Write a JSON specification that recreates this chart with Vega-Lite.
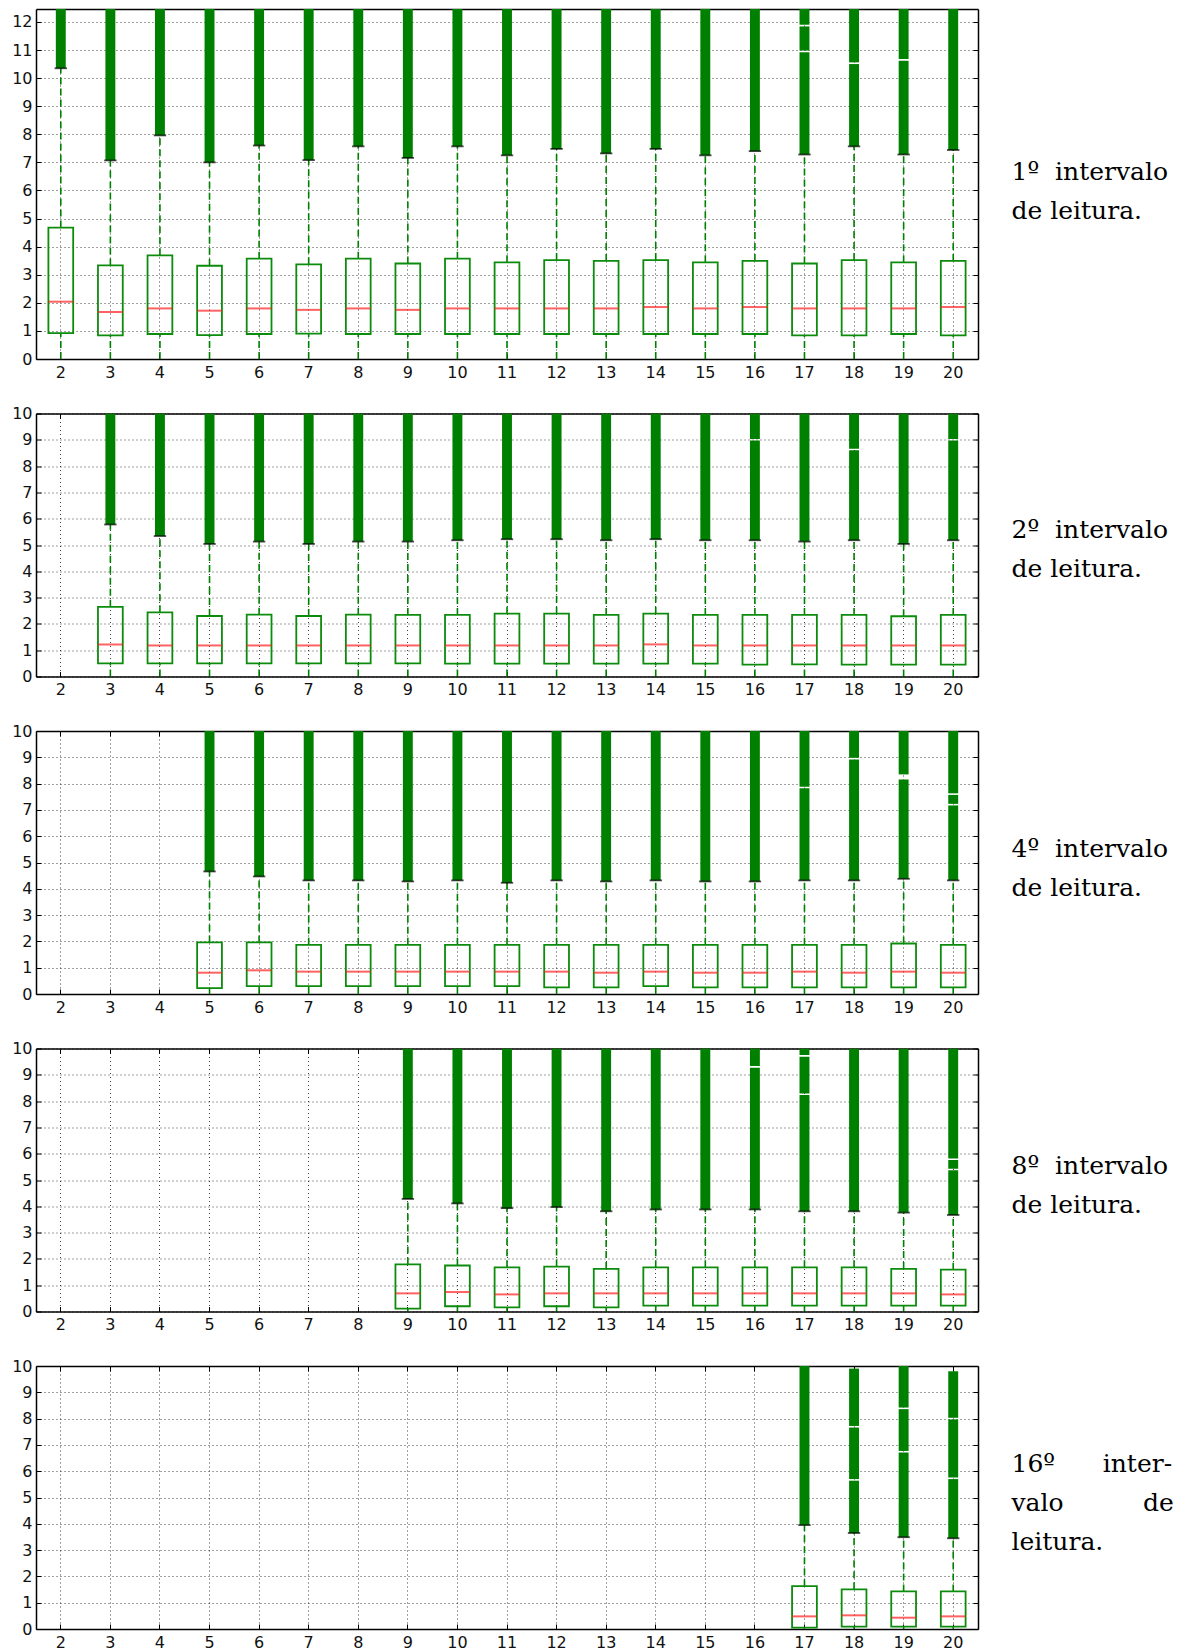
{
  "$schema": "https://vega.github.io/schema/vega-lite/v6.json",
  "padding": {"left": 11, "top": 8, "right": 5, "bottom": 5},
  "background": "white",
  "bounds": "flush",
  "spacing": 54.5,
  "config": {
    "view": {"stroke": null},
    "scale": {"bandPaddingInner": 0, "bandPaddingOuter": 0},
    "axis": {
      "labelFont": "DejaVu Sans",
      "labelFontSize": 16,
      "labelColor": "#111",
      "labelAngle": 0,
      "gridColor": "#000",
      "gridDash": [1, 3],
      "gridWidth": 1,
      "gridOpacity": 0.75,
      "tickColor": "#000",
      "tickWidth": 1,
      "domainColor": "#000",
      "domainWidth": 1.5,
      "titleFont": "DejaVu Serif",
      "titleFontSize": 25,
      "titleFontWeight": "normal",
      "titleLineHeight": 39,
      "titleColor": "#000",
      "zindex": 1
    }
  },
  "datasets": {
    "boxes": [
      {"panel": 1, "n": 2, "lo": 0, "q1": 0.92, "med": 2.04, "q3": 4.68, "hi": 10.35},
      {"panel": 1, "n": 3, "lo": 0, "q1": 0.84, "med": 1.67, "q3": 3.33, "hi": 7.07},
      {"panel": 1, "n": 4, "lo": 0, "q1": 0.89, "med": 1.80, "q3": 3.69, "hi": 7.96},
      {"panel": 1, "n": 5, "lo": 0, "q1": 0.85, "med": 1.72, "q3": 3.32, "hi": 7.00},
      {"panel": 1, "n": 6, "lo": 0, "q1": 0.89, "med": 1.80, "q3": 3.57, "hi": 7.60},
      {"panel": 1, "n": 7, "lo": 0, "q1": 0.90, "med": 1.75, "q3": 3.37, "hi": 7.08},
      {"panel": 1, "n": 8, "lo": 0, "q1": 0.89, "med": 1.80, "q3": 3.57, "hi": 7.57},
      {"panel": 1, "n": 9, "lo": 0, "q1": 0.89, "med": 1.75, "q3": 3.40, "hi": 7.16},
      {"panel": 1, "n": 10, "lo": 0, "q1": 0.89, "med": 1.80, "q3": 3.57, "hi": 7.57},
      {"panel": 1, "n": 11, "lo": 0, "q1": 0.89, "med": 1.80, "q3": 3.44, "hi": 7.25},
      {"panel": 1, "n": 12, "lo": 0, "q1": 0.89, "med": 1.80, "q3": 3.52, "hi": 7.48},
      {"panel": 1, "n": 13, "lo": 0, "q1": 0.89, "med": 1.80, "q3": 3.49, "hi": 7.32},
      {"panel": 1, "n": 14, "lo": 0, "q1": 0.89, "med": 1.85, "q3": 3.52, "hi": 7.48},
      {"panel": 1, "n": 15, "lo": 0, "q1": 0.89, "med": 1.80, "q3": 3.44, "hi": 7.25},
      {"panel": 1, "n": 16, "lo": 0, "q1": 0.89, "med": 1.85, "q3": 3.49, "hi": 7.40},
      {"panel": 1, "n": 17, "lo": 0, "q1": 0.84, "med": 1.80, "q3": 3.40, "hi": 7.28},
      {"panel": 1, "n": 18, "lo": 0, "q1": 0.84, "med": 1.80, "q3": 3.52, "hi": 7.57},
      {"panel": 1, "n": 19, "lo": 0, "q1": 0.89, "med": 1.80, "q3": 3.44, "hi": 7.28},
      {"panel": 1, "n": 20, "lo": 0, "q1": 0.84, "med": 1.85, "q3": 3.49, "hi": 7.44},

      {"panel": 2, "n": 3, "lo": 0, "q1": 0.50, "med": 1.22, "q3": 2.65, "hi": 5.78},
      {"panel": 2, "n": 4, "lo": 0, "q1": 0.50, "med": 1.18, "q3": 2.44, "hi": 5.34},
      {"panel": 2, "n": 5, "lo": 0, "q1": 0.50, "med": 1.18, "q3": 2.30, "hi": 5.04},
      {"panel": 2, "n": 6, "lo": 0, "q1": 0.50, "med": 1.18, "q3": 2.35, "hi": 5.13},
      {"panel": 2, "n": 7, "lo": 0, "q1": 0.50, "med": 1.18, "q3": 2.30, "hi": 5.04},
      {"panel": 2, "n": 8, "lo": 0, "q1": 0.50, "med": 1.18, "q3": 2.35, "hi": 5.13},
      {"panel": 2, "n": 9, "lo": 0, "q1": 0.50, "med": 1.18, "q3": 2.34, "hi": 5.13},
      {"panel": 2, "n": 10, "lo": 0, "q1": 0.49, "med": 1.18, "q3": 2.34, "hi": 5.18},
      {"panel": 2, "n": 11, "lo": 0, "q1": 0.49, "med": 1.18, "q3": 2.39, "hi": 5.22},
      {"panel": 2, "n": 12, "lo": 0, "q1": 0.49, "med": 1.18, "q3": 2.39, "hi": 5.22},
      {"panel": 2, "n": 13, "lo": 0, "q1": 0.49, "med": 1.18, "q3": 2.34, "hi": 5.18},
      {"panel": 2, "n": 14, "lo": 0, "q1": 0.49, "med": 1.22, "q3": 2.39, "hi": 5.22},
      {"panel": 2, "n": 15, "lo": 0, "q1": 0.49, "med": 1.18, "q3": 2.34, "hi": 5.18},
      {"panel": 2, "n": 16, "lo": 0, "q1": 0.45, "med": 1.18, "q3": 2.34, "hi": 5.18},
      {"panel": 2, "n": 17, "lo": 0, "q1": 0.46, "med": 1.18, "q3": 2.34, "hi": 5.13},
      {"panel": 2, "n": 18, "lo": 0, "q1": 0.45, "med": 1.18, "q3": 2.34, "hi": 5.18},
      {"panel": 2, "n": 19, "lo": 0, "q1": 0.45, "med": 1.18, "q3": 2.29, "hi": 5.04},
      {"panel": 2, "n": 20, "lo": 0, "q1": 0.45, "med": 1.18, "q3": 2.34, "hi": 5.18},

      {"panel": 3, "n": 5, "lo": 0, "q1": 0.22, "med": 0.81, "q3": 1.96, "hi": 4.66},
      {"panel": 3, "n": 6, "lo": 0, "q1": 0.30, "med": 0.90, "q3": 1.96, "hi": 4.47},
      {"panel": 3, "n": 7, "lo": 0, "q1": 0.30, "med": 0.85, "q3": 1.87, "hi": 4.32},
      {"panel": 3, "n": 8, "lo": 0, "q1": 0.30, "med": 0.85, "q3": 1.87, "hi": 4.32},
      {"panel": 3, "n": 9, "lo": 0, "q1": 0.30, "med": 0.85, "q3": 1.87, "hi": 4.28},
      {"panel": 3, "n": 10, "lo": 0, "q1": 0.30, "med": 0.85, "q3": 1.87, "hi": 4.32},
      {"panel": 3, "n": 11, "lo": 0, "q1": 0.30, "med": 0.85, "q3": 1.87, "hi": 4.23},
      {"panel": 3, "n": 12, "lo": 0, "q1": 0.25, "med": 0.85, "q3": 1.87, "hi": 4.32},
      {"panel": 3, "n": 13, "lo": 0, "q1": 0.25, "med": 0.81, "q3": 1.87, "hi": 4.28},
      {"panel": 3, "n": 14, "lo": 0, "q1": 0.30, "med": 0.85, "q3": 1.87, "hi": 4.32},
      {"panel": 3, "n": 15, "lo": 0, "q1": 0.25, "med": 0.81, "q3": 1.87, "hi": 4.28},
      {"panel": 3, "n": 16, "lo": 0, "q1": 0.25, "med": 0.81, "q3": 1.87, "hi": 4.28},
      {"panel": 3, "n": 17, "lo": 0, "q1": 0.25, "med": 0.85, "q3": 1.87, "hi": 4.32},
      {"panel": 3, "n": 18, "lo": 0, "q1": 0.25, "med": 0.81, "q3": 1.87, "hi": 4.32},
      {"panel": 3, "n": 19, "lo": 0, "q1": 0.25, "med": 0.85, "q3": 1.92, "hi": 4.38},
      {"panel": 3, "n": 20, "lo": 0, "q1": 0.25, "med": 0.81, "q3": 1.87, "hi": 4.32},

      {"panel": 4, "n": 9, "lo": 0, "q1": 0.11, "med": 0.69, "q3": 1.79, "hi": 4.28},
      {"panel": 4, "n": 10, "lo": 0, "q1": 0.20, "med": 0.74, "q3": 1.75, "hi": 4.11},
      {"panel": 4, "n": 11, "lo": 0, "q1": 0.16, "med": 0.65, "q3": 1.68, "hi": 3.93},
      {"panel": 4, "n": 12, "lo": 0, "q1": 0.20, "med": 0.69, "q3": 1.71, "hi": 3.97},
      {"panel": 4, "n": 13, "lo": 0, "q1": 0.16, "med": 0.69, "q3": 1.62, "hi": 3.81},
      {"panel": 4, "n": 14, "lo": 0, "q1": 0.22, "med": 0.69, "q3": 1.68, "hi": 3.88},
      {"panel": 4, "n": 15, "lo": 0, "q1": 0.22, "med": 0.69, "q3": 1.68, "hi": 3.88},
      {"panel": 4, "n": 16, "lo": 0, "q1": 0.22, "med": 0.69, "q3": 1.68, "hi": 3.88},
      {"panel": 4, "n": 17, "lo": 0, "q1": 0.22, "med": 0.69, "q3": 1.68, "hi": 3.81},
      {"panel": 4, "n": 18, "lo": 0, "q1": 0.22, "med": 0.69, "q3": 1.68, "hi": 3.81},
      {"panel": 4, "n": 19, "lo": 0, "q1": 0.22, "med": 0.69, "q3": 1.62, "hi": 3.76},
      {"panel": 4, "n": 20, "lo": 0, "q1": 0.22, "med": 0.65, "q3": 1.59, "hi": 3.67},

      {"panel": 5, "n": 17, "lo": 0, "q1": 0.05, "med": 0.48, "q3": 1.63, "hi": 3.95},
      {"panel": 5, "n": 18, "lo": 0, "q1": 0.09, "med": 0.52, "q3": 1.51, "hi": 3.65},
      {"panel": 5, "n": 19, "lo": 0, "q1": 0.09, "med": 0.43, "q3": 1.43, "hi": 3.49},
      {"panel": 5, "n": 20, "lo": 0, "q1": 0.09, "med": 0.48, "q3": 1.43, "hi": 3.45}
    ],
    "outliers": [
      {"panel": 1, "n": 2, "y0": 10.35, "y1": 12.46},
      {"panel": 1, "n": 3, "y0": 7.07, "y1": 12.46},
      {"panel": 1, "n": 4, "y0": 7.96, "y1": 12.46},
      {"panel": 1, "n": 5, "y0": 7.00, "y1": 12.46},
      {"panel": 1, "n": 6, "y0": 7.60, "y1": 12.46},
      {"panel": 1, "n": 7, "y0": 7.08, "y1": 12.46},
      {"panel": 1, "n": 8, "y0": 7.57, "y1": 12.46},
      {"panel": 1, "n": 9, "y0": 7.16, "y1": 12.46},
      {"panel": 1, "n": 10, "y0": 7.57, "y1": 12.46},
      {"panel": 1, "n": 11, "y0": 7.25, "y1": 12.46},
      {"panel": 1, "n": 12, "y0": 7.48, "y1": 12.46},
      {"panel": 1, "n": 13, "y0": 7.32, "y1": 12.46},
      {"panel": 1, "n": 14, "y0": 7.48, "y1": 12.46},
      {"panel": 1, "n": 15, "y0": 7.25, "y1": 12.46},
      {"panel": 1, "n": 16, "y0": 7.40, "y1": 12.46},
      {"panel": 1, "n": 17, "y0": 7.28, "y1": 10.92},
      {"panel": 1, "n": 17, "y0": 10.98, "y1": 11.84},
      {"panel": 1, "n": 17, "y0": 11.90, "y1": 12.46},
      {"panel": 1, "n": 18, "y0": 7.57, "y1": 10.50},
      {"panel": 1, "n": 18, "y0": 10.56, "y1": 12.46},
      {"panel": 1, "n": 19, "y0": 7.28, "y1": 10.62},
      {"panel": 1, "n": 19, "y0": 10.68, "y1": 12.46},
      {"panel": 1, "n": 20, "y0": 7.44, "y1": 12.46},

      {"panel": 2, "n": 3, "y0": 5.78, "y1": 10},
      {"panel": 2, "n": 4, "y0": 5.34, "y1": 10},
      {"panel": 2, "n": 5, "y0": 5.04, "y1": 10},
      {"panel": 2, "n": 6, "y0": 5.13, "y1": 10},
      {"panel": 2, "n": 7, "y0": 5.04, "y1": 10},
      {"panel": 2, "n": 8, "y0": 5.13, "y1": 10},
      {"panel": 2, "n": 9, "y0": 5.13, "y1": 10},
      {"panel": 2, "n": 10, "y0": 5.18, "y1": 10},
      {"panel": 2, "n": 11, "y0": 5.22, "y1": 10},
      {"panel": 2, "n": 12, "y0": 5.22, "y1": 10},
      {"panel": 2, "n": 13, "y0": 5.18, "y1": 10},
      {"panel": 2, "n": 14, "y0": 5.22, "y1": 10},
      {"panel": 2, "n": 15, "y0": 5.18, "y1": 10},
      {"panel": 2, "n": 16, "y0": 5.18, "y1": 8.97},
      {"panel": 2, "n": 16, "y0": 9.03, "y1": 10},
      {"panel": 2, "n": 17, "y0": 5.13, "y1": 10},
      {"panel": 2, "n": 18, "y0": 5.18, "y1": 8.60},
      {"panel": 2, "n": 18, "y0": 8.66, "y1": 10},
      {"panel": 2, "n": 19, "y0": 5.04, "y1": 10},
      {"panel": 2, "n": 20, "y0": 5.18, "y1": 8.97},
      {"panel": 2, "n": 20, "y0": 9.03, "y1": 10},

      {"panel": 3, "n": 5, "y0": 4.66, "y1": 10},
      {"panel": 3, "n": 6, "y0": 4.47, "y1": 10},
      {"panel": 3, "n": 7, "y0": 4.32, "y1": 10},
      {"panel": 3, "n": 8, "y0": 4.32, "y1": 10},
      {"panel": 3, "n": 9, "y0": 4.28, "y1": 10},
      {"panel": 3, "n": 10, "y0": 4.32, "y1": 10},
      {"panel": 3, "n": 11, "y0": 4.23, "y1": 10},
      {"panel": 3, "n": 12, "y0": 4.32, "y1": 10},
      {"panel": 3, "n": 13, "y0": 4.28, "y1": 10},
      {"panel": 3, "n": 14, "y0": 4.32, "y1": 10},
      {"panel": 3, "n": 15, "y0": 4.28, "y1": 10},
      {"panel": 3, "n": 16, "y0": 4.28, "y1": 10},
      {"panel": 3, "n": 17, "y0": 4.32, "y1": 7.82},
      {"panel": 3, "n": 17, "y0": 7.88, "y1": 10},
      {"panel": 3, "n": 18, "y0": 4.32, "y1": 8.92},
      {"panel": 3, "n": 18, "y0": 8.98, "y1": 10},
      {"panel": 3, "n": 19, "y0": 4.38, "y1": 8.16},
      {"panel": 3, "n": 19, "y0": 8.35, "y1": 10},
      {"panel": 3, "n": 20, "y0": 4.32, "y1": 7.17},
      {"panel": 3, "n": 20, "y0": 7.23, "y1": 7.57},
      {"panel": 3, "n": 20, "y0": 7.63, "y1": 10},

      {"panel": 4, "n": 9, "y0": 4.28, "y1": 10},
      {"panel": 4, "n": 10, "y0": 4.11, "y1": 10},
      {"panel": 4, "n": 11, "y0": 3.93, "y1": 10},
      {"panel": 4, "n": 12, "y0": 3.97, "y1": 10},
      {"panel": 4, "n": 13, "y0": 3.81, "y1": 10},
      {"panel": 4, "n": 14, "y0": 3.88, "y1": 10},
      {"panel": 4, "n": 15, "y0": 3.88, "y1": 10},
      {"panel": 4, "n": 16, "y0": 3.88, "y1": 9.27},
      {"panel": 4, "n": 16, "y0": 9.33, "y1": 10},
      {"panel": 4, "n": 17, "y0": 3.81, "y1": 8.23},
      {"panel": 4, "n": 17, "y0": 8.29, "y1": 9.69},
      {"panel": 4, "n": 17, "y0": 9.75, "y1": 10},
      {"panel": 4, "n": 18, "y0": 3.81, "y1": 10},
      {"panel": 4, "n": 19, "y0": 3.76, "y1": 10},
      {"panel": 4, "n": 20, "y0": 3.67, "y1": 5.37},
      {"panel": 4, "n": 20, "y0": 5.43, "y1": 5.76},
      {"panel": 4, "n": 20, "y0": 5.82, "y1": 10},

      {"panel": 5, "n": 17, "y0": 3.95, "y1": 10},
      {"panel": 5, "n": 18, "y0": 3.65, "y1": 5.64},
      {"panel": 5, "n": 18, "y0": 5.70, "y1": 7.66},
      {"panel": 5, "n": 18, "y0": 7.72, "y1": 9.90},
      {"panel": 5, "n": 19, "y0": 3.49, "y1": 6.71},
      {"panel": 5, "n": 19, "y0": 6.77, "y1": 8.36},
      {"panel": 5, "n": 19, "y0": 8.42, "y1": 10},
      {"panel": 5, "n": 20, "y0": 3.45, "y1": 5.70},
      {"panel": 5, "n": 20, "y0": 5.76, "y1": 7.97},
      {"panel": 5, "n": 20, "y0": 8.03, "y1": 9.80}
    ]
  },
  "vconcat": [
    {
      "width": 942, "height": 350,
      "data": {"name": "boxes"},
      "transform": [{"filter": "datum.panel == 1"}],
      "resolve": {"axis": {"x": "independent", "y": "independent"}},
      "layer": [
        {
          "data": {"name": "outliers"},
          "transform": [{"filter": "datum.panel == 1"}],
          "mark": {"type": "bar", "width": {"band": 0.2}, "color": "#008000", "clip": true},
          "encoding": {
            "x": {"field": "n", "type": "ordinal", "scale": {"domain": [2,3,4,5,6,7,8,9,10,11,12,13,14,15,16,17,18,19,20]},
                  "axis": {"orient": "bottom", "title": null, "grid": true, "ticks": false, "domain": true, "labelPadding": 5, "bandPosition": 0.5}},
            "y": {"field": "y0", "type": "quantitative", "scale": {"domain": [0, 12.46], "nice": false, "zero": false},
                  "axis": {"orient": "left", "title": null, "grid": true, "ticks": false, "domain": true, "labelPadding": 4, "values": [0,1,2,3,4,5,6,7,8,9,10,11,12]}},
            "y2": {"field": "y1"}
          }
        },
        {
          "mark": {"type": "rule", "color": "#008000", "strokeWidth": 1.6, "strokeDash": [7, 4]},
          "encoding": {
            "x": {"field": "n", "type": "ordinal", "scale": {"domain": [2,3,4,5,6,7,8,9,10,11,12,13,14,15,16,17,18,19,20]},
                  "axis": {"orient": "bottom", "title": null, "grid": false, "labels": false, "domain": false, "tickSize": -5, "bandPosition": 0.5}},
            "y": {"field": "q3", "type": "quantitative", "scale": {"domain": [0, 12.46], "nice": false, "zero": false},
                  "axis": {"orient": "left", "title": null, "grid": false, "labels": false, "domain": false, "tickSize": -5, "values": [0,1,2,3,4,5,6,7,8,9,10,11,12]}},
            "y2": {"field": "hi"}
          }
        },
        {
          "mark": {"type": "rule", "color": "#008000", "strokeWidth": 1.6, "strokeDash": [7, 4]},
          "encoding": {
            "x": {"field": "n", "type": "ordinal", "scale": {"domain": [2,3,4,5,6,7,8,9,10,11,12,13,14,15,16,17,18,19,20]}, "axis": null},
            "y": {"field": "lo", "type": "quantitative", "scale": {"domain": [0, 12.46], "nice": false, "zero": false}, "axis": null},
            "y2": {"field": "q1"}
          }
        },
        {
          "mark": {"type": "bar", "width": {"band": 0.5}, "fill": "transparent", "stroke": "#0c8c0c", "strokeWidth": 1.8},
          "encoding": {
            "x": {"field": "n", "type": "ordinal", "scale": {"domain": [2,3,4,5,6,7,8,9,10,11,12,13,14,15,16,17,18,19,20]},
                  "axis": {"orient": "top", "title": null, "grid": false, "labels": false, "domain": true, "tickSize": -5, "bandPosition": 0.5}},
            "y": {"field": "q1", "type": "quantitative", "scale": {"domain": [0, 12.46], "nice": false, "zero": false},
                  "axis": {"orient": "right", "grid": false, "labels": false, "domain": true, "tickSize": -5, "values": [0,1,2,3,4,5,6,7,8,9,10,11,12],
                           "title": ["1º\u00a0\u00a0intervalo", "de leitura."], "titleAngle": 0, "titleAlign": "left", "titleBaseline": "middle",
                           "titleX": 33, "titleY": 162}},
            "y2": {"field": "q3"}
          }
        },
        {
          "mark": {"type": "tick", "color": "#000", "thickness": 1.8, "size": 12.4},
          "encoding": {
            "x": {"field": "n", "type": "ordinal", "scale": {"domain": [2,3,4,5,6,7,8,9,10,11,12,13,14,15,16,17,18,19,20]}, "axis": null},
            "y": {"field": "hi", "type": "quantitative", "scale": {"domain": [0, 12.46], "nice": false, "zero": false}, "axis": null}
          }
        },
        {
          "mark": {"type": "tick", "color": "#ff2020", "thickness": 2, "size": 24.8},
          "encoding": {
            "x": {"field": "n", "type": "ordinal", "scale": {"domain": [2,3,4,5,6,7,8,9,10,11,12,13,14,15,16,17,18,19,20]}, "axis": null},
            "y": {"field": "med", "type": "quantitative", "scale": {"domain": [0, 12.46], "nice": false, "zero": false}, "axis": null}
          }
        }
      ]
    },
    {
      "width": 942, "height": 263,
      "data": {"name": "boxes"},
      "transform": [{"filter": "datum.panel == 2"}],
      "resolve": {"axis": {"x": "independent", "y": "independent"}},
      "layer": [
        {
          "data": {"name": "outliers"},
          "transform": [{"filter": "datum.panel == 2"}],
          "mark": {"type": "bar", "width": {"band": 0.2}, "color": "#008000", "clip": true},
          "encoding": {
            "x": {"field": "n", "type": "ordinal", "scale": {"domain": [2,3,4,5,6,7,8,9,10,11,12,13,14,15,16,17,18,19,20]},
                  "axis": {"orient": "bottom", "title": null, "grid": true, "ticks": false, "domain": true, "labelPadding": 5, "bandPosition": 0.5}},
            "y": {"field": "y0", "type": "quantitative", "scale": {"domain": [0, 10], "nice": false, "zero": false},
                  "axis": {"orient": "left", "title": null, "grid": true, "ticks": false, "domain": true, "labelPadding": 4, "values": [0,1,2,3,4,5,6,7,8,9,10]}},
            "y2": {"field": "y1"}
          }
        },
        {
          "mark": {"type": "rule", "color": "#008000", "strokeWidth": 1.6, "strokeDash": [7, 4]},
          "encoding": {
            "x": {"field": "n", "type": "ordinal", "scale": {"domain": [2,3,4,5,6,7,8,9,10,11,12,13,14,15,16,17,18,19,20]},
                  "axis": {"orient": "bottom", "title": null, "grid": false, "labels": false, "domain": false, "tickSize": -5, "bandPosition": 0.5}},
            "y": {"field": "q3", "type": "quantitative", "scale": {"domain": [0, 10], "nice": false, "zero": false},
                  "axis": {"orient": "left", "title": null, "grid": false, "labels": false, "domain": false, "tickSize": -5, "values": [0,1,2,3,4,5,6,7,8,9,10]}},
            "y2": {"field": "hi"}
          }
        },
        {
          "mark": {"type": "rule", "color": "#008000", "strokeWidth": 1.6, "strokeDash": [7, 4]},
          "encoding": {
            "x": {"field": "n", "type": "ordinal", "scale": {"domain": [2,3,4,5,6,7,8,9,10,11,12,13,14,15,16,17,18,19,20]}, "axis": null},
            "y": {"field": "lo", "type": "quantitative", "scale": {"domain": [0, 10], "nice": false, "zero": false}, "axis": null},
            "y2": {"field": "q1"}
          }
        },
        {
          "mark": {"type": "bar", "width": {"band": 0.5}, "fill": "transparent", "stroke": "#0c8c0c", "strokeWidth": 1.8},
          "encoding": {
            "x": {"field": "n", "type": "ordinal", "scale": {"domain": [2,3,4,5,6,7,8,9,10,11,12,13,14,15,16,17,18,19,20]},
                  "axis": {"orient": "top", "title": null, "grid": false, "labels": false, "domain": true, "tickSize": -5, "bandPosition": 0.5}},
            "y": {"field": "q1", "type": "quantitative", "scale": {"domain": [0, 10], "nice": false, "zero": false},
                  "axis": {"orient": "right", "grid": false, "labels": false, "domain": true, "tickSize": -5, "values": [0,1,2,3,4,5,6,7,8,9,10],
                           "title": ["2º\u00a0\u00a0intervalo", "de leitura."], "titleAngle": 0, "titleAlign": "left", "titleBaseline": "middle",
                           "titleX": 33, "titleY": 116}},
            "y2": {"field": "q3"}
          }
        },
        {
          "mark": {"type": "tick", "color": "#000", "thickness": 1.8, "size": 12.4},
          "encoding": {
            "x": {"field": "n", "type": "ordinal", "scale": {"domain": [2,3,4,5,6,7,8,9,10,11,12,13,14,15,16,17,18,19,20]}, "axis": null},
            "y": {"field": "hi", "type": "quantitative", "scale": {"domain": [0, 10], "nice": false, "zero": false}, "axis": null}
          }
        },
        {
          "mark": {"type": "tick", "color": "#ff2020", "thickness": 2, "size": 24.8},
          "encoding": {
            "x": {"field": "n", "type": "ordinal", "scale": {"domain": [2,3,4,5,6,7,8,9,10,11,12,13,14,15,16,17,18,19,20]}, "axis": null},
            "y": {"field": "med", "type": "quantitative", "scale": {"domain": [0, 10], "nice": false, "zero": false}, "axis": null}
          }
        }
      ]
    },
    {
      "width": 942, "height": 263,
      "data": {"name": "boxes"},
      "transform": [{"filter": "datum.panel == 3"}],
      "resolve": {"axis": {"x": "independent", "y": "independent"}},
      "layer": [
        {
          "data": {"name": "outliers"},
          "transform": [{"filter": "datum.panel == 3"}],
          "mark": {"type": "bar", "width": {"band": 0.2}, "color": "#008000", "clip": true},
          "encoding": {
            "x": {"field": "n", "type": "ordinal", "scale": {"domain": [2,3,4,5,6,7,8,9,10,11,12,13,14,15,16,17,18,19,20]},
                  "axis": {"orient": "bottom", "title": null, "grid": true, "ticks": false, "domain": true, "labelPadding": 5, "bandPosition": 0.5}},
            "y": {"field": "y0", "type": "quantitative", "scale": {"domain": [0, 10], "nice": false, "zero": false},
                  "axis": {"orient": "left", "title": null, "grid": true, "ticks": false, "domain": true, "labelPadding": 4, "values": [0,1,2,3,4,5,6,7,8,9,10]}},
            "y2": {"field": "y1"}
          }
        },
        {
          "mark": {"type": "rule", "color": "#008000", "strokeWidth": 1.6, "strokeDash": [7, 4]},
          "encoding": {
            "x": {"field": "n", "type": "ordinal", "scale": {"domain": [2,3,4,5,6,7,8,9,10,11,12,13,14,15,16,17,18,19,20]},
                  "axis": {"orient": "bottom", "title": null, "grid": false, "labels": false, "domain": false, "tickSize": -5, "bandPosition": 0.5}},
            "y": {"field": "q3", "type": "quantitative", "scale": {"domain": [0, 10], "nice": false, "zero": false},
                  "axis": {"orient": "left", "title": null, "grid": false, "labels": false, "domain": false, "tickSize": -5, "values": [0,1,2,3,4,5,6,7,8,9,10]}},
            "y2": {"field": "hi"}
          }
        },
        {
          "mark": {"type": "rule", "color": "#008000", "strokeWidth": 1.6, "strokeDash": [7, 4]},
          "encoding": {
            "x": {"field": "n", "type": "ordinal", "scale": {"domain": [2,3,4,5,6,7,8,9,10,11,12,13,14,15,16,17,18,19,20]}, "axis": null},
            "y": {"field": "lo", "type": "quantitative", "scale": {"domain": [0, 10], "nice": false, "zero": false}, "axis": null},
            "y2": {"field": "q1"}
          }
        },
        {
          "mark": {"type": "bar", "width": {"band": 0.5}, "fill": "transparent", "stroke": "#0c8c0c", "strokeWidth": 1.8},
          "encoding": {
            "x": {"field": "n", "type": "ordinal", "scale": {"domain": [2,3,4,5,6,7,8,9,10,11,12,13,14,15,16,17,18,19,20]},
                  "axis": {"orient": "top", "title": null, "grid": false, "labels": false, "domain": true, "tickSize": -5, "bandPosition": 0.5}},
            "y": {"field": "q1", "type": "quantitative", "scale": {"domain": [0, 10], "nice": false, "zero": false},
                  "axis": {"orient": "right", "grid": false, "labels": false, "domain": true, "tickSize": -5, "values": [0,1,2,3,4,5,6,7,8,9,10],
                           "title": ["4º\u00a0\u00a0intervalo", "de leitura."], "titleAngle": 0, "titleAlign": "left", "titleBaseline": "middle",
                           "titleX": 33, "titleY": 117}},
            "y2": {"field": "q3"}
          }
        },
        {
          "mark": {"type": "tick", "color": "#000", "thickness": 1.8, "size": 12.4},
          "encoding": {
            "x": {"field": "n", "type": "ordinal", "scale": {"domain": [2,3,4,5,6,7,8,9,10,11,12,13,14,15,16,17,18,19,20]}, "axis": null},
            "y": {"field": "hi", "type": "quantitative", "scale": {"domain": [0, 10], "nice": false, "zero": false}, "axis": null}
          }
        },
        {
          "mark": {"type": "tick", "color": "#ff2020", "thickness": 2, "size": 24.8},
          "encoding": {
            "x": {"field": "n", "type": "ordinal", "scale": {"domain": [2,3,4,5,6,7,8,9,10,11,12,13,14,15,16,17,18,19,20]}, "axis": null},
            "y": {"field": "med", "type": "quantitative", "scale": {"domain": [0, 10], "nice": false, "zero": false}, "axis": null}
          }
        }
      ]
    },
    {
      "width": 942, "height": 263,
      "data": {"name": "boxes"},
      "transform": [{"filter": "datum.panel == 4"}],
      "resolve": {"axis": {"x": "independent", "y": "independent"}},
      "layer": [
        {
          "data": {"name": "outliers"},
          "transform": [{"filter": "datum.panel == 4"}],
          "mark": {"type": "bar", "width": {"band": 0.2}, "color": "#008000", "clip": true},
          "encoding": {
            "x": {"field": "n", "type": "ordinal", "scale": {"domain": [2,3,4,5,6,7,8,9,10,11,12,13,14,15,16,17,18,19,20]},
                  "axis": {"orient": "bottom", "title": null, "grid": true, "ticks": false, "domain": true, "labelPadding": 5, "bandPosition": 0.5}},
            "y": {"field": "y0", "type": "quantitative", "scale": {"domain": [0, 10], "nice": false, "zero": false},
                  "axis": {"orient": "left", "title": null, "grid": true, "ticks": false, "domain": true, "labelPadding": 4, "values": [0,1,2,3,4,5,6,7,8,9,10]}},
            "y2": {"field": "y1"}
          }
        },
        {
          "mark": {"type": "rule", "color": "#008000", "strokeWidth": 1.6, "strokeDash": [7, 4]},
          "encoding": {
            "x": {"field": "n", "type": "ordinal", "scale": {"domain": [2,3,4,5,6,7,8,9,10,11,12,13,14,15,16,17,18,19,20]},
                  "axis": {"orient": "bottom", "title": null, "grid": false, "labels": false, "domain": false, "tickSize": -5, "bandPosition": 0.5}},
            "y": {"field": "q3", "type": "quantitative", "scale": {"domain": [0, 10], "nice": false, "zero": false},
                  "axis": {"orient": "left", "title": null, "grid": false, "labels": false, "domain": false, "tickSize": -5, "values": [0,1,2,3,4,5,6,7,8,9,10]}},
            "y2": {"field": "hi"}
          }
        },
        {
          "mark": {"type": "rule", "color": "#008000", "strokeWidth": 1.6, "strokeDash": [7, 4]},
          "encoding": {
            "x": {"field": "n", "type": "ordinal", "scale": {"domain": [2,3,4,5,6,7,8,9,10,11,12,13,14,15,16,17,18,19,20]}, "axis": null},
            "y": {"field": "lo", "type": "quantitative", "scale": {"domain": [0, 10], "nice": false, "zero": false}, "axis": null},
            "y2": {"field": "q1"}
          }
        },
        {
          "mark": {"type": "bar", "width": {"band": 0.5}, "fill": "transparent", "stroke": "#0c8c0c", "strokeWidth": 1.8},
          "encoding": {
            "x": {"field": "n", "type": "ordinal", "scale": {"domain": [2,3,4,5,6,7,8,9,10,11,12,13,14,15,16,17,18,19,20]},
                  "axis": {"orient": "top", "title": null, "grid": false, "labels": false, "domain": true, "tickSize": -5, "bandPosition": 0.5}},
            "y": {"field": "q1", "type": "quantitative", "scale": {"domain": [0, 10], "nice": false, "zero": false},
                  "axis": {"orient": "right", "grid": false, "labels": false, "domain": true, "tickSize": -5, "values": [0,1,2,3,4,5,6,7,8,9,10],
                           "title": ["8º\u00a0\u00a0intervalo", "de leitura."], "titleAngle": 0, "titleAlign": "left", "titleBaseline": "middle",
                           "titleX": 33, "titleY": 117}},
            "y2": {"field": "q3"}
          }
        },
        {
          "mark": {"type": "tick", "color": "#000", "thickness": 1.8, "size": 12.4},
          "encoding": {
            "x": {"field": "n", "type": "ordinal", "scale": {"domain": [2,3,4,5,6,7,8,9,10,11,12,13,14,15,16,17,18,19,20]}, "axis": null},
            "y": {"field": "hi", "type": "quantitative", "scale": {"domain": [0, 10], "nice": false, "zero": false}, "axis": null}
          }
        },
        {
          "mark": {"type": "tick", "color": "#ff2020", "thickness": 2, "size": 24.8},
          "encoding": {
            "x": {"field": "n", "type": "ordinal", "scale": {"domain": [2,3,4,5,6,7,8,9,10,11,12,13,14,15,16,17,18,19,20]}, "axis": null},
            "y": {"field": "med", "type": "quantitative", "scale": {"domain": [0, 10], "nice": false, "zero": false}, "axis": null}
          }
        }
      ]
    },
    {
      "width": 942, "height": 263,
      "data": {"name": "boxes"},
      "transform": [{"filter": "datum.panel == 5"}],
      "resolve": {"axis": {"x": "independent", "y": "independent"}},
      "layer": [
        {
          "data": {"name": "outliers"},
          "transform": [{"filter": "datum.panel == 5"}],
          "mark": {"type": "bar", "width": {"band": 0.2}, "color": "#008000", "clip": true},
          "encoding": {
            "x": {"field": "n", "type": "ordinal", "scale": {"domain": [2,3,4,5,6,7,8,9,10,11,12,13,14,15,16,17,18,19,20]},
                  "axis": {"orient": "bottom", "title": null, "grid": true, "ticks": false, "domain": true, "labelPadding": 5, "bandPosition": 0.5}},
            "y": {"field": "y0", "type": "quantitative", "scale": {"domain": [0, 10], "nice": false, "zero": false},
                  "axis": {"orient": "left", "title": null, "grid": true, "ticks": false, "domain": true, "labelPadding": 4, "values": [0,1,2,3,4,5,6,7,8,9,10]}},
            "y2": {"field": "y1"}
          }
        },
        {
          "mark": {"type": "rule", "color": "#008000", "strokeWidth": 1.6, "strokeDash": [7, 4]},
          "encoding": {
            "x": {"field": "n", "type": "ordinal", "scale": {"domain": [2,3,4,5,6,7,8,9,10,11,12,13,14,15,16,17,18,19,20]},
                  "axis": {"orient": "bottom", "title": null, "grid": false, "labels": false, "domain": false, "tickSize": -5, "bandPosition": 0.5}},
            "y": {"field": "q3", "type": "quantitative", "scale": {"domain": [0, 10], "nice": false, "zero": false},
                  "axis": {"orient": "left", "title": null, "grid": false, "labels": false, "domain": false, "tickSize": -5, "values": [0,1,2,3,4,5,6,7,8,9,10]}},
            "y2": {"field": "hi"}
          }
        },
        {
          "mark": {"type": "rule", "color": "#008000", "strokeWidth": 1.6, "strokeDash": [7, 4]},
          "encoding": {
            "x": {"field": "n", "type": "ordinal", "scale": {"domain": [2,3,4,5,6,7,8,9,10,11,12,13,14,15,16,17,18,19,20]}, "axis": null},
            "y": {"field": "lo", "type": "quantitative", "scale": {"domain": [0, 10], "nice": false, "zero": false}, "axis": null},
            "y2": {"field": "q1"}
          }
        },
        {
          "mark": {"type": "bar", "width": {"band": 0.5}, "fill": "transparent", "stroke": "#0c8c0c", "strokeWidth": 1.8},
          "encoding": {
            "x": {"field": "n", "type": "ordinal", "scale": {"domain": [2,3,4,5,6,7,8,9,10,11,12,13,14,15,16,17,18,19,20]},
                  "axis": {"orient": "top", "title": null, "grid": false, "labels": false, "domain": true, "tickSize": -5, "bandPosition": 0.5}},
            "y": {"field": "q1", "type": "quantitative", "scale": {"domain": [0, 10], "nice": false, "zero": false},
                  "axis": {"orient": "right", "grid": false, "labels": false, "domain": true, "tickSize": -5, "values": [0,1,2,3,4,5,6,7,8,9,10],
                           "title": ["16º\u00a0\u00a0\u00a0\u00a0\u00a0\u00a0inter-", "valo\u00a0\u00a0\u00a0\u00a0\u00a0\u00a0\u00a0\u00a0\u00a0\u00a0de", "leitura."], "titleAngle": 0, "titleAlign": "left", "titleBaseline": "middle",
                           "titleX": 33, "titleY": 97}},
            "y2": {"field": "q3"}
          }
        },
        {
          "mark": {"type": "tick", "color": "#000", "thickness": 1.8, "size": 12.4},
          "encoding": {
            "x": {"field": "n", "type": "ordinal", "scale": {"domain": [2,3,4,5,6,7,8,9,10,11,12,13,14,15,16,17,18,19,20]}, "axis": null},
            "y": {"field": "hi", "type": "quantitative", "scale": {"domain": [0, 10], "nice": false, "zero": false}, "axis": null}
          }
        },
        {
          "mark": {"type": "tick", "color": "#ff2020", "thickness": 2, "size": 24.8},
          "encoding": {
            "x": {"field": "n", "type": "ordinal", "scale": {"domain": [2,3,4,5,6,7,8,9,10,11,12,13,14,15,16,17,18,19,20]}, "axis": null},
            "y": {"field": "med", "type": "quantitative", "scale": {"domain": [0, 10], "nice": false, "zero": false}, "axis": null}
          }
        }
      ]
    }
  ]
}
